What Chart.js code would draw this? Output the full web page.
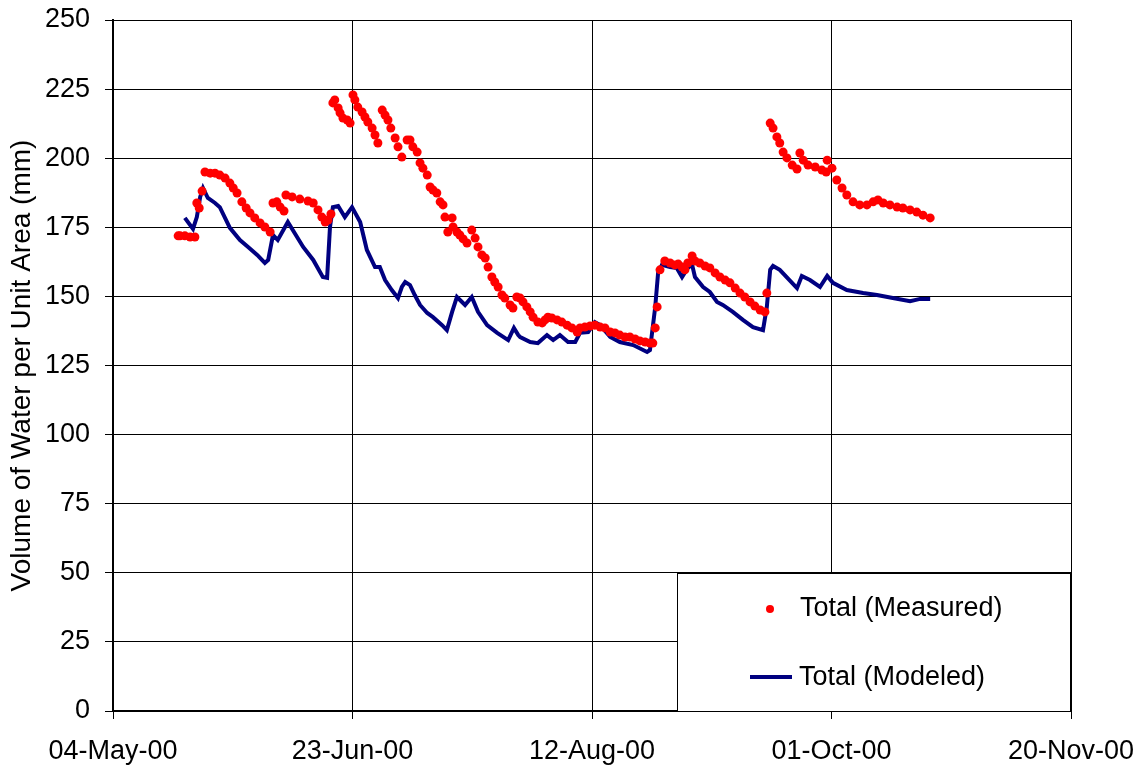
<!DOCTYPE html>
<html>
<head>
<meta charset="utf-8">
<script src="https://cdn.jsdelivr.net/npm/chart.js@4.4.1/dist/chart.umd.min.js"></script>
<style>
  html, body { margin: 0; padding: 0; background: #fff; }
  canvas { display: block; }
</style>
</head>
<body>
<canvas id="c" width="1140" height="765"></canvas>
<script>
// Days counted from 04-May-00
const tickLabels = ['04-May-00', '23-Jun-00', '12-Aug-00', '01-Oct-00', '20-Nov-00'];
const seriesNames = ['Total (Measured)', 'Total (Modeled)'];

const measuredDays = [
  13.6, 14.0, 15.0, 16.1, 17.1, 17.5, 18.0, 18.6, 19.2, 20.3, 21.3, 22.3, 23.4, 24.4, 25.1, 25.9,
  26.9, 27.8, 28.6, 29.6, 30.7, 31.7, 32.8, 33.4, 34.2, 34.9, 35.7, 36.1, 37.4, 39.0, 40.7, 41.8,
  42.8, 43.6, 44.3, 44.9, 45.5, 45.9, 46.3, 47.0, 47.4, 48.0, 48.9, 49.5, 50.1, 50.5, 51.1, 52.0,
  52.6, 53.2, 54.1, 54.7, 55.3, 56.2, 56.8, 57.4, 58.0, 58.9, 59.5, 60.3, 61.4, 62.0, 62.6, 63.5,
  64.1, 64.7, 65.6, 66.2, 66.8, 67.6, 68.3, 68.9, 69.3, 69.9, 70.8, 71.0, 71.8, 72.4, 73.1, 73.9,
  74.9, 75.6, 76.2, 77.0, 77.7, 78.3, 79.1, 79.7, 80.4, 81.2, 81.8, 82.9, 83.5, 84.3, 85.0, 85.6,
  86.4, 87.1, 87.7, 88.7, 89.6, 90.2, 90.8, 91.6, 92.7, 93.7, 94.8, 95.8, 96.9, 97.5, 98.5, 99.6,
  100.6, 101.7, 102.7, 103.8, 104.8, 105.8, 106.9, 107.9, 109.0, 110.0, 111.1, 112.1, 112.7, 113.2,
  113.6, 114.2, 115.2, 116.3, 117.3, 118.0, 118.8, 119.4, 120.0, 120.9, 121.5, 122.5, 123.6, 124.6,
  125.7, 126.7, 127.8, 128.8, 129.9, 130.9, 131.9, 133.0, 134.0, 135.1, 136.1, 136.5, 137.2, 137.8,
  138.6, 139.2, 139.9, 140.7, 141.8, 142.8, 143.4, 144.1, 145.1, 146.6, 148.0, 148.9, 149.1, 150.1,
  151.1, 152.2, 153.2, 154.5, 155.9, 157.4, 158.7, 159.7, 160.8, 162.2, 163.7, 164.9, 166.4, 167.8,
  169.1, 170.6
];
const measuredValues = [
  171.9, 171.9, 171.9, 171.5, 171.5, 183.8, 182.0, 188.1, 195.0, 194.6, 194.6, 193.9, 192.8, 191.0, 189.2, 187.4,
  184.2, 182.0, 180.2, 178.4, 176.6, 175.1, 173.3, 183.8, 184.2, 182.3, 180.9, 186.7, 186.0, 185.2, 184.5, 183.8,
  181.3, 178.7, 176.9, 177.6, 179.8, 220.0, 221.1, 218.2, 216.4, 214.5, 213.8, 212.7, 222.9, 221.1, 218.5, 216.7,
  214.9, 213.1, 210.9, 208.4, 205.5, 217.4, 215.6, 213.8, 210.9, 207.3, 204.1, 200.4, 206.6, 206.6, 204.1, 202.2,
  198.3, 196.4, 193.9, 189.6, 188.5, 187.4, 184.2, 183.1, 178.7, 173.3, 178.4, 175.1, 173.3, 172.2, 170.8, 169.3,
  174.0, 171.1, 167.9, 165.0, 163.9, 160.6, 157.0, 155.2, 153.4, 150.5, 149.4, 146.9, 145.8, 149.8, 149.4, 148.0,
  146.2, 144.4, 142.5, 140.7, 140.4, 141.5, 142.5, 142.2, 141.5, 140.7, 139.6, 138.6, 137.1, 138.6, 138.9, 139.3,
  139.6, 138.9, 138.6, 137.1, 136.8, 136.0, 135.3, 135.3, 134.6, 133.9, 133.5, 133.1, 133.1, 138.6,
  146.2, 159.6, 162.8, 162.1, 161.4, 161.7, 160.6, 159.6, 162.1, 164.6, 162.8, 162.1, 161.0, 160.3,
  158.5, 157.0, 155.9, 154.9, 153.0, 151.2, 149.8, 148.0, 146.5, 145.1, 144.4, 151.2, 212.7, 210.9,
  207.7, 205.5, 202.2, 200.1, 197.5, 196.1, 201.9, 199.3, 197.5, 196.8, 195.7, 195.0, 199.3, 196.4,
  192.1, 189.2, 186.7, 184.2, 183.1, 183.1, 184.2, 184.9, 183.8, 183.1, 182.3, 182.0, 181.3, 180.5,
  179.4, 178.4
];

const modeledDays = [
  15.0, 16.7, 17.5, 18.2, 18.8, 19.8, 21.3, 22.3, 24.4, 26.5, 28.2, 30.1, 31.7, 32.4, 33.4, 34.4,
  36.5, 39.7, 41.8, 43.8, 44.7, 45.3, 45.9, 47.0, 48.4, 49.9, 51.6, 53.0, 54.7, 55.7, 56.8, 58.2,
  59.5, 60.3, 61.0, 62.0, 63.0, 64.1, 65.6, 66.8, 68.7, 69.7, 70.8, 71.8, 73.5, 74.9, 76.2, 78.1,
  80.2, 82.5, 83.7, 84.6, 85.0, 87.1, 88.7, 90.6, 91.9, 93.3, 95.0, 96.5, 97.5, 99.2, 100.6, 101.7,
  103.8, 105.8, 108.6, 111.5, 112.1, 113.2, 113.8, 114.6, 116.3, 117.7, 118.8, 120.0, 120.9, 121.5,
  123.2, 124.6, 126.1, 127.3, 129.4, 131.5, 133.6, 135.7, 136.5, 137.2, 137.8, 139.2, 142.8, 143.8,
  145.5, 147.6, 149.1, 150.3, 153.2, 156.6, 159.5, 162.8, 166.4, 168.5, 170.6
];
const modeledValues = [
  178.4, 174.4, 178.7, 186.0, 189.2, 185.6, 183.8, 182.3, 174.8, 170.4, 167.9, 165.0, 162.1, 163.2, 172.2, 170.4,
  176.9, 167.9, 163.2, 157.0, 156.7, 175.1, 182.3, 182.7, 178.7, 182.3, 176.9, 166.8, 160.6, 160.6, 155.9, 152.3,
  149.4, 153.4, 155.2, 154.1, 150.5, 146.9, 144.0, 142.5, 139.6, 137.8, 144.4, 149.8, 146.9, 149.8, 144.4, 139.6,
  136.8, 134.2, 138.6, 136.0, 135.3, 133.5, 133.1, 136.0, 134.2, 136.0, 133.5, 133.5, 136.8, 137.1, 140.7, 139.6,
  135.3, 133.5, 132.4, 129.9, 130.6, 146.2, 158.5, 161.4, 160.6, 160.3, 157.0, 160.3, 161.4, 157.0,
  153.4, 151.6, 148.0, 146.9, 144.4, 141.5, 138.9, 137.8, 146.2, 159.6, 161.0, 159.6, 153.0, 157.4,
  155.9, 153.4, 157.4, 154.9, 152.3, 151.2, 150.5, 149.4, 148.3, 149.1, 149.1
];

const FONT = "'Liberation Sans', Arial, sans-serif";

const measuredData = measuredDays.map((d, i) => ({ x: d, y: measuredValues[i] }));
const modeledData = modeledDays.map((d, i) => ({ x: d, y: modeledValues[i] }));

const legendBox = {
  id: 'legendBox',
  afterDraw(chart) {
    const ctx = chart.ctx;
    const area = chart.chartArea;
    const right = area.right, bottom = area.bottom;
    const left = 677, top = 573;
    ctx.save();
    ctx.fillStyle = '#ffffff';
    ctx.fillRect(left, top, right - left, bottom - top);
    ctx.strokeStyle = '#000000';
    ctx.lineWidth = 1;
    ctx.strokeRect(left + 0.5, top + 0.5, right - left - 1, bottom - top);
    const ds0 = chart.data.datasets[0];
    const ds1 = chart.data.datasets[1];
    ctx.fillStyle = ds0.pointBackgroundColor;
    ctx.beginPath();
    ctx.arc(770, 609, 4, 0, Math.PI * 2);
    ctx.fill();
    ctx.strokeStyle = ds1.borderColor;
    ctx.lineWidth = 4;
    ctx.beginPath();
    ctx.moveTo(750, 677);
    ctx.lineTo(792, 677);
    ctx.stroke();
    ctx.fillStyle = '#000';
    ctx.font = '27px ' + FONT;
    ctx.textBaseline = 'middle';
    ctx.textAlign = 'left';
    ctx.fillText(ds0.label, 800, 609);
    ctx.fillText(ds1.label, 799, 678);
    ctx.restore();
  }
};

new Chart(document.getElementById('c'), {
  type: 'scatter',
  data: {
    datasets: [
      {
        label: seriesNames[0],
        data: measuredData,
        showLine: false,
        pointRadius: 4.5,
        pointBorderWidth: 0,
        pointBackgroundColor: '#ff0000',
        pointBorderColor: '#ff0000',
        order: 0
      },
      {
        label: seriesNames[1],
        data: modeledData,
        showLine: true,
        borderColor: '#000080',
        borderWidth: 4,
        pointRadius: 0,
        tension: 0,
        order: 1
      }
    ]
  },
  options: {
    responsive: false,
    animation: false,
    layout: { padding: { top: 20, right: 69, left: 0, bottom: 0 } },
    plugins: { legend: { display: false }, tooltip: { enabled: false } },
    scales: {
      x: {
        type: 'linear',
        min: 0,
        max: 200,
        afterFit(s) { s.height = 54; s.paddingLeft = 0; s.paddingRight = 0; },
        afterBuildTicks(s) { s.ticks = tickLabels.map((_, i) => ({ value: i * 50 })); },
        ticks: {
          stepSize: 50,
          color: '#000',
          padding: 16,
          maxRotation: 0,
          font: { family: FONT, size: 27 },
          callback: (v) => tickLabels[Math.round(v / 50)]
        },
        grid: { color: '#000', lineWidth: 1, tickLength: 8, drawTicks: true },
        border: { color: '#000', width: 2 }
      },
      y: {
        min: 0,
        max: 250,
        afterFit(s) { s.width = 113; s.paddingTop = 0; s.paddingBottom = 0; },
        ticks: {
          stepSize: 25,
          color: '#000',
          padding: 15,
          font: { family: FONT, size: 27 }
        },
        grid: { color: '#000', lineWidth: 1, tickLength: 8, drawTicks: true },
        border: { color: '#000', width: 2 },
        title: {
          display: true,
          text: 'Volume of Water per Unit Area (mm)',
          color: '#000',
          font: { family: FONT, size: 28 },
          padding: { top: 5, bottom: 0 }
        }
      }
    }
  },
  plugins: [legendBox]
});
</script>
</body>
</html>
